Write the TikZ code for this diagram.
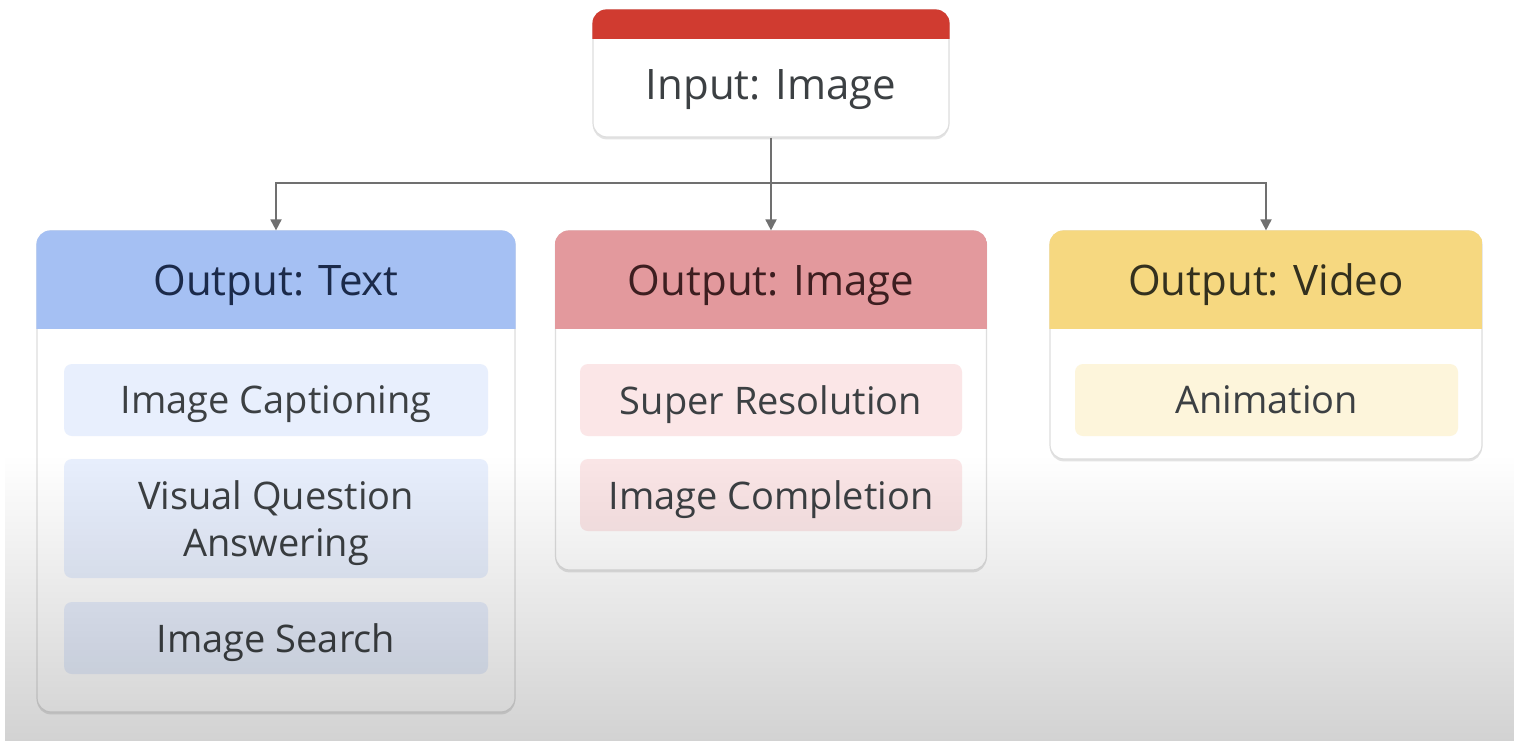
\documentclass[tikz,border=0pt]{standalone}
\usepackage{fontspec}
\setmainfont{Open Sans}
\usetikzlibrary{arrows.meta,shadows,fadings}

\definecolor{bandred}{HTML}{D03B30}
\definecolor{hdblue}{HTML}{A5C0F3}
\definecolor{hdpink}{HTML}{E3999D}
\definecolor{hdyellow}{HTML}{F6D880}
\definecolor{itblue}{HTML}{E8EFFD}
\definecolor{itpink}{HTML}{FBE6E7}
\definecolor{ityellow}{HTML}{FDF5DB}
\definecolor{txtgray}{HTML}{3C4043}
\definecolor{txtblue}{HTML}{1B2A4A}
\definecolor{txtpink}{HTML}{3D1E20}
\definecolor{txtyellow}{HTML}{33301E}
\definecolor{linegray}{HTML}{707070}

\tikzfading[name=fadedown, top color=transparent!100, bottom color=transparent!0]

\tikzset{
  panel/.style={rectangle, rounded corners=7pt, fill=white, draw=black!13,
    line width=0.6pt, inner sep=0pt,
    drop shadow={shadow xshift=0pt, shadow yshift=-1.2pt, opacity=0.22}},
  headtext/.style={font=\fontsize{21pt}{25pt}\selectfont, inner sep=0pt,
    text depth=0pt},
  item/.style={rectangle, rounded corners=4pt, inner sep=0pt, text=txtgray,
    align=center, text depth=0pt, font=\fontsize{19pt}{23.5pt}\selectfont},
  conn/.style={draw=linegray, line width=0.9pt,
    -{Triangle[width=5.5pt,length=5.5pt]}}
}

\begin{document}
\begin{tikzpicture}[x=0.5pt, y=-0.5pt]
\useasboundingbox (0,0) rectangle (1514,740);
\fill[white] (0,0) rectangle (1514,740);

% input box with red top band
\node[panel, minimum width=178pt, minimum height=63.5pt] (inp) at (771,73.5) {};
\begin{scope}
  \clip[rounded corners=7pt] (inp.south west) rectangle (inp.north east);
  \fill[bandred] (inp.north west) rectangle ([yshift=-15pt]inp.north east);
\end{scope}
\node[headtext, text=txtgray] (inplabel) at (771,85) {Input: Image};

% output panels
\node[panel, minimum width=239pt, minimum height=240.5pt] (otext) at (276,471.5) {};
\node[panel, minimum width=215.5pt, minimum height=169.5pt] (oimg) at (771,400.5) {};
\node[panel, minimum width=216pt, minimum height=114pt] (ovid) at (1266,345) {};

\foreach \p/\c in {otext/hdblue, oimg/hdpink, ovid/hdyellow}{
  \begin{scope}
    \clip[rounded corners=7pt] (\p.south west) rectangle (\p.north east);
    \fill[\c] (\p.north west) rectangle ([yshift=-49.5pt]\p.north east);
  \end{scope}
}

\node[headtext, text=txtblue] (htext) at (276,280) {Output: Text};
\node[headtext, text=txtpink] (himg) at (771,280) {Output: Image};
\node[headtext, text=txtyellow] (hvid) at (1266,280) {Output: Video};

% task items
\node[item, fill=itblue, minimum width=212pt, minimum height=36pt] (cap) at (276,400) {Image Captioning};
\node[item, fill=itblue, minimum width=212pt, minimum height=59.5pt] (vqa) at (276,518.5) {Visual Question\\Answering};
\node[item, fill=itblue, minimum width=212pt, minimum height=36pt] (srch) at (276,638) {Image Search};

\node[item, fill=itpink, minimum width=191pt, minimum height=36pt] (sres) at (771,400) {Super Resolution};
\node[item, fill=itpink, minimum width=191pt, minimum height=36pt] (comp) at (771,495) {Image Completion};

\node[item, fill=ityellow, minimum width=191.5pt, minimum height=36pt] (anim) at (1266.5,400) {Animation};

% connectors
\coordinate (hub) at (771,183);
\draw[conn] (inp.south) -- (oimg.north);
\draw[conn] (hub) -| (otext.north);
\draw[conn] (hub) -| (ovid.north);

% soft grey vignette towards the bottom
\fill[black, path fading=fadedown, fill opacity=0.19] (6,455) rectangle (1540,760);
\end{tikzpicture}
\end{document}
